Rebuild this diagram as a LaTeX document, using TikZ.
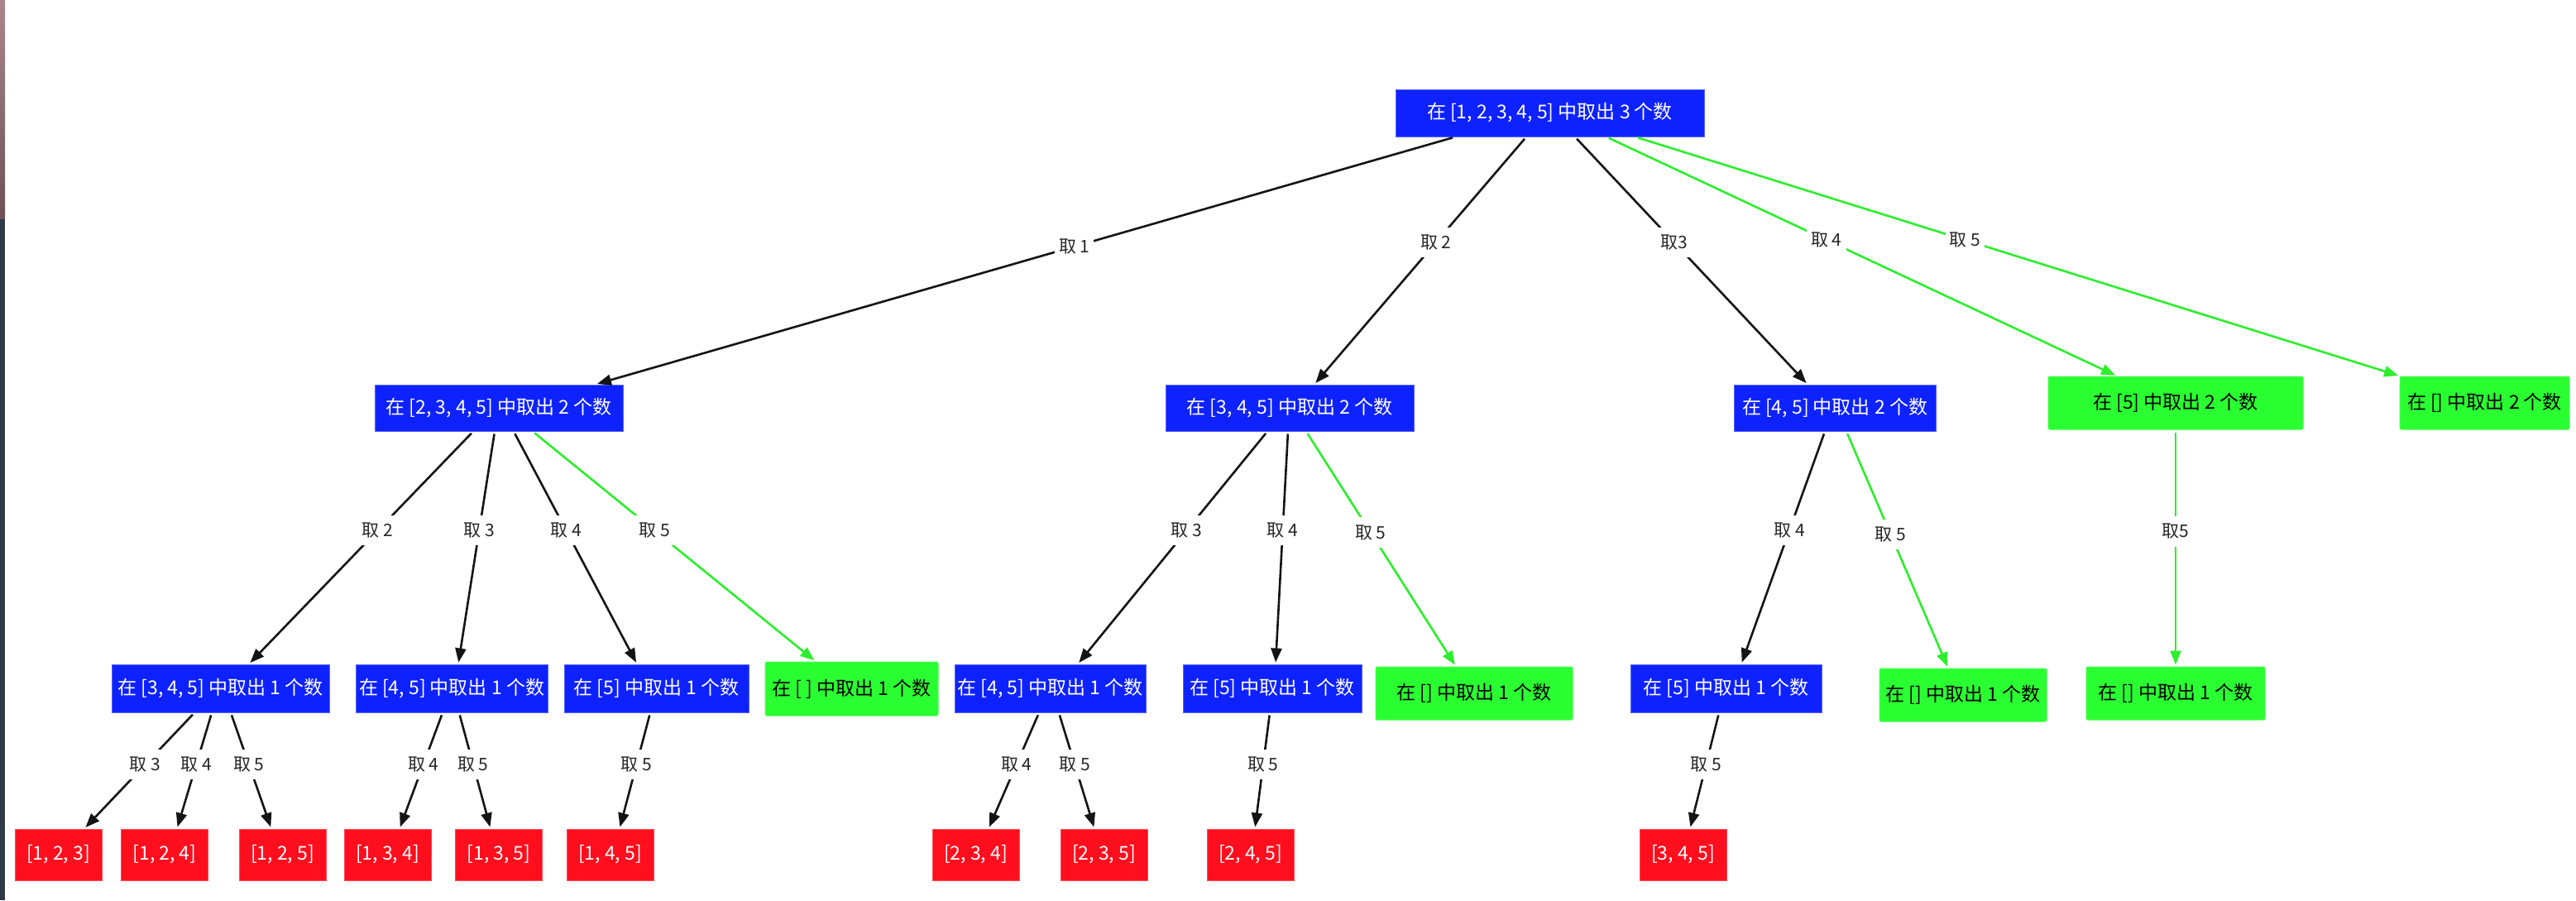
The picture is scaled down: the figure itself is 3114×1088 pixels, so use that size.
\documentclass[tikz,border=0pt]{standalone}
\usepackage{fontspec}
\newfontfamily\cjk{Noto Sans CJK SC}
\usetikzlibrary{arrows.meta}

\definecolor{nodeblue}{RGB}{14,34,255}
\definecolor{nodegreen}{RGB}{42,255,50}
\definecolor{nodered}{RGB}{255,14,30}
\definecolor{edgegreen}{RGB}{45,238,45}
\definecolor{edgeblack}{RGB}{20,20,20}
\definecolor{stripTop}{RGB}{168,136,140}
\definecolor{stripMid}{RGB}{110,80,88}
\definecolor{stripLow}{RGB}{46,58,72}

\begin{document}
\begin{tikzpicture}[x=1pt,y=-1pt,
  box/.style={rectangle, inner sep=0pt, line width=1pt,
    font=\cjk\fontsize{23}{27}\selectfont},
  bluebox/.style={box, fill=nodeblue, draw=nodeblue!70!white, text=white},
  greenbox/.style={box, fill=nodegreen, draw=nodegreen!85!white, text=black, rounded corners=2pt},
  redbox/.style={box, fill=nodered, draw=nodered!75!white, text=white,
    minimum width=105pt, minimum height=62pt},
  lvl/.style={minimum height=57pt},
  lbl/.style={fill=white, text=black!85, inner xsep=5pt, inner ysep=9pt,
    font=\cjk\fontsize{21}{25}\selectfont},
  edge/.style={draw=edgeblack, line width=2.6pt, shorten >=2pt, shorten <=3pt,
    -{Triangle[length=17pt,width=13pt]}},
  gedge/.style={edge, draw=edgegreen},
]
% page area
\useasboundingbox (0,0) rectangle (3114,1088);
\fill[white] (0,0) rectangle (3114,1088);

% thin strip along the left border
\shade[top color=stripTop, bottom color=stripMid] (0,0) rectangle (6,265);
\fill[stripLow] (0,265) rectangle (6,1088);

% ---- level 0
\node[bluebox, minimum width=373pt, minimum height=57pt] (root) at (1873.5,136.5)
  {在 [1, 2, 3, 4, 5] 中取出 3 个数};

% ---- level 1
\node[bluebox, minimum width=300pt, minimum height=56pt] (A) at (603,493)
  {在 [2, 3, 4, 5] 中取出 2 个数};
\node[bluebox, minimum width=300pt, minimum height=56pt] (B) at (1559,493)
  {在 [3, 4, 5] 中取出 2 个数};
\node[bluebox, minimum width=244pt, minimum height=56pt] (C) at (2218,493)
  {在 [4, 5] 中取出 2 个数};
\node[greenbox, minimum width=308pt, minimum height=64pt] (D) at (2630,487)
  {在 [5] 中取出 2 个数};
\node[greenbox, minimum width=205pt, minimum height=64pt] (E) at (3003.5,487)
  {在 [] 中取出 2 个数};

% ---- level 2
\node[bluebox, minimum width=263pt, minimum height=58pt] (a1) at (266.5,832)
  {在 [3, 4, 5] 中取出 1 个数};
\node[bluebox, minimum width=232pt, minimum height=58pt] (a2) at (546,832)
  {在 [4, 5] 中取出 1 个数};
\node[bluebox, minimum width=223pt, minimum height=58pt] (a3) at (793.5,832)
  {在 [5] 中取出 1 个数};
\node[greenbox, minimum width=209pt, minimum height=65pt] (a4) at (1029.5,832.5)
  {在 [ ] 中取出 1 个数};
\node[bluebox, minimum width=231pt, minimum height=58pt] (b1) at (1269.5,832)
  {在 [4, 5] 中取出 1 个数};
\node[bluebox, minimum width=216pt, minimum height=58pt] (b2) at (1538,832)
  {在 [5] 中取出 1 个数};
\node[greenbox, minimum width=238pt, minimum height=64pt] (b3) at (1782,838)
  {在 [] 中取出 1 个数};
\node[bluebox, minimum width=231pt, minimum height=58pt] (c1) at (2086.5,832)
  {在 [5] 中取出 1 个数};
\node[greenbox, minimum width=202pt, minimum height=64pt] (c2) at (2373,840)
  {在 [] 中取出 1 个数};
\node[greenbox, minimum width=216pt, minimum height=64pt] (d1) at (2630,838)
  {在 [] 中取出 1 个数};

% ---- level 3 (results)
\node[redbox] (r123) at (70.5,1033)  {[1, 2, 3]};
\node[redbox] (r124) at (199,1033)   {[1, 2, 4]};
\node[redbox] (r125) at (341.5,1033) {[1, 2, 5]};
\node[redbox] (r134) at (468.5,1033) {[1, 3, 4]};
\node[redbox] (r135) at (603,1033)   {[1, 3, 5]};
\node[redbox] (r145) at (737.5,1033) {[1, 4, 5]};
\node[redbox] (r234) at (1179.5,1033){[2, 3, 4]};
\node[redbox] (r235) at (1334.5,1033){[2, 3, 5]};
\node[redbox] (r245) at (1511.5,1033){[2, 4, 5]};
\node[redbox] (r345) at (2034.5,1033){[3, 4, 5]};

% ---- connectors from the root
\draw[edge]  ([xshift=-114.5pt]root.south) -- node[lbl,pos=.443]{取 1} ([xshift=117pt]A.north);
\draw[edge]  ([xshift=-28.5pt]root.south)  -- node[lbl,pos=.427]{取 2} ([xshift=30pt]B.north);
\draw[edge]  ([xshift=30.5pt]root.south)   -- node[lbl,pos=.427]{取3}  ([xshift=-33pt]C.north);
\draw[gedge] ([xshift=68.5pt]root.south)   -- node[lbl,pos=.431]{取 4} ([xshift=-71pt]D.north);
\draw[gedge] ([xshift=103.5pt]root.south)  -- node[lbl,pos=.431]{取 5} ([xshift=-102.5pt]E.north);

% ---- connectors from level 1
\draw[edge]  ([xshift=-31pt]A.south) -- node[lbl,pos=.426]{取 2} ([xshift=34.5pt]a1.north);
\draw[edge]  ([xshift=-5pt]A.south)  -- node[lbl,pos=.426]{取 3} ([xshift=8pt]a2.north);
\draw[edge]  ([xshift=18pt]A.south)  -- node[lbl,pos=.426]{取 4} ([xshift=-23.5pt]a3.north);
\draw[gedge] ([xshift=41pt]A.south)  -- node[lbl,pos=.43]{取 5}  ([xshift=-43.5pt]a4.north);

\draw[edge]  ([xshift=-27pt]B.south) -- node[lbl,pos=.426]{取 3} ([xshift=33.5pt]b1.north);
\draw[edge]  ([xshift=-2pt]B.south)  -- node[lbl,pos=.426]{取 4} ([xshift=4pt]b2.north);
\draw[gedge] ([xshift=20pt]B.south)  -- node[lbl,pos=.43]{取 5}  ([xshift=-22pt]b3.north);

\draw[edge]  ([xshift=-12pt]C.south) -- node[lbl,pos=.426]{取 4} ([xshift=18.5pt]c1.north);
\draw[gedge] ([xshift=14pt]C.south)  -- node[lbl,pos=.435]{取 5} ([xshift=-18pt]c2.north);

\draw[gedge] (D.south) -- node[lbl,pos=.43]{取5} (d1.north);

% ---- connectors from level 2
\draw[edge] ([xshift=-31.5pt]a1.south) -- node[lbl,pos=.447]{取 3} ([xshift=31.5pt]r123.north);
\draw[edge] ([xshift=-10.5pt]a1.south) -- node[lbl,pos=.447]{取 4} ([xshift=15pt]r124.north);
\draw[edge] ([xshift=12.5pt]a1.south)  -- node[lbl,pos=.447]{取 5} ([xshift=-13.5pt]r125.north);
\draw[edge] ([xshift=-11pt]a2.south)   -- node[lbl,pos=.447]{取 4} ([xshift=14.5pt]r134.north);
\draw[edge] ([xshift=9pt]a2.south)     -- node[lbl,pos=.447]{取 5} ([xshift=-10pt]r135.north);
\draw[edge] ([xshift=-7.5pt]a3.south)  -- node[lbl,pos=.447]{取 5} ([xshift=11.5pt]r145.north);
\draw[edge] ([xshift=-13.5pt]b1.south) -- node[lbl,pos=.447]{取 4} ([xshift=15.5pt]r234.north);
\draw[edge] ([xshift=10.5pt]b1.south)  -- node[lbl,pos=.447]{取 5} ([xshift=-11.5pt]r235.north);
\draw[edge] ([xshift=-3pt]b2.south)    -- node[lbl,pos=.447]{取 5} ([xshift=5.5pt]r245.north);
\draw[edge] ([xshift=-8.5pt]c1.south)  -- node[lbl,pos=.447]{取 5} ([xshift=8.5pt]r345.north);
\end{tikzpicture}
\end{document}
